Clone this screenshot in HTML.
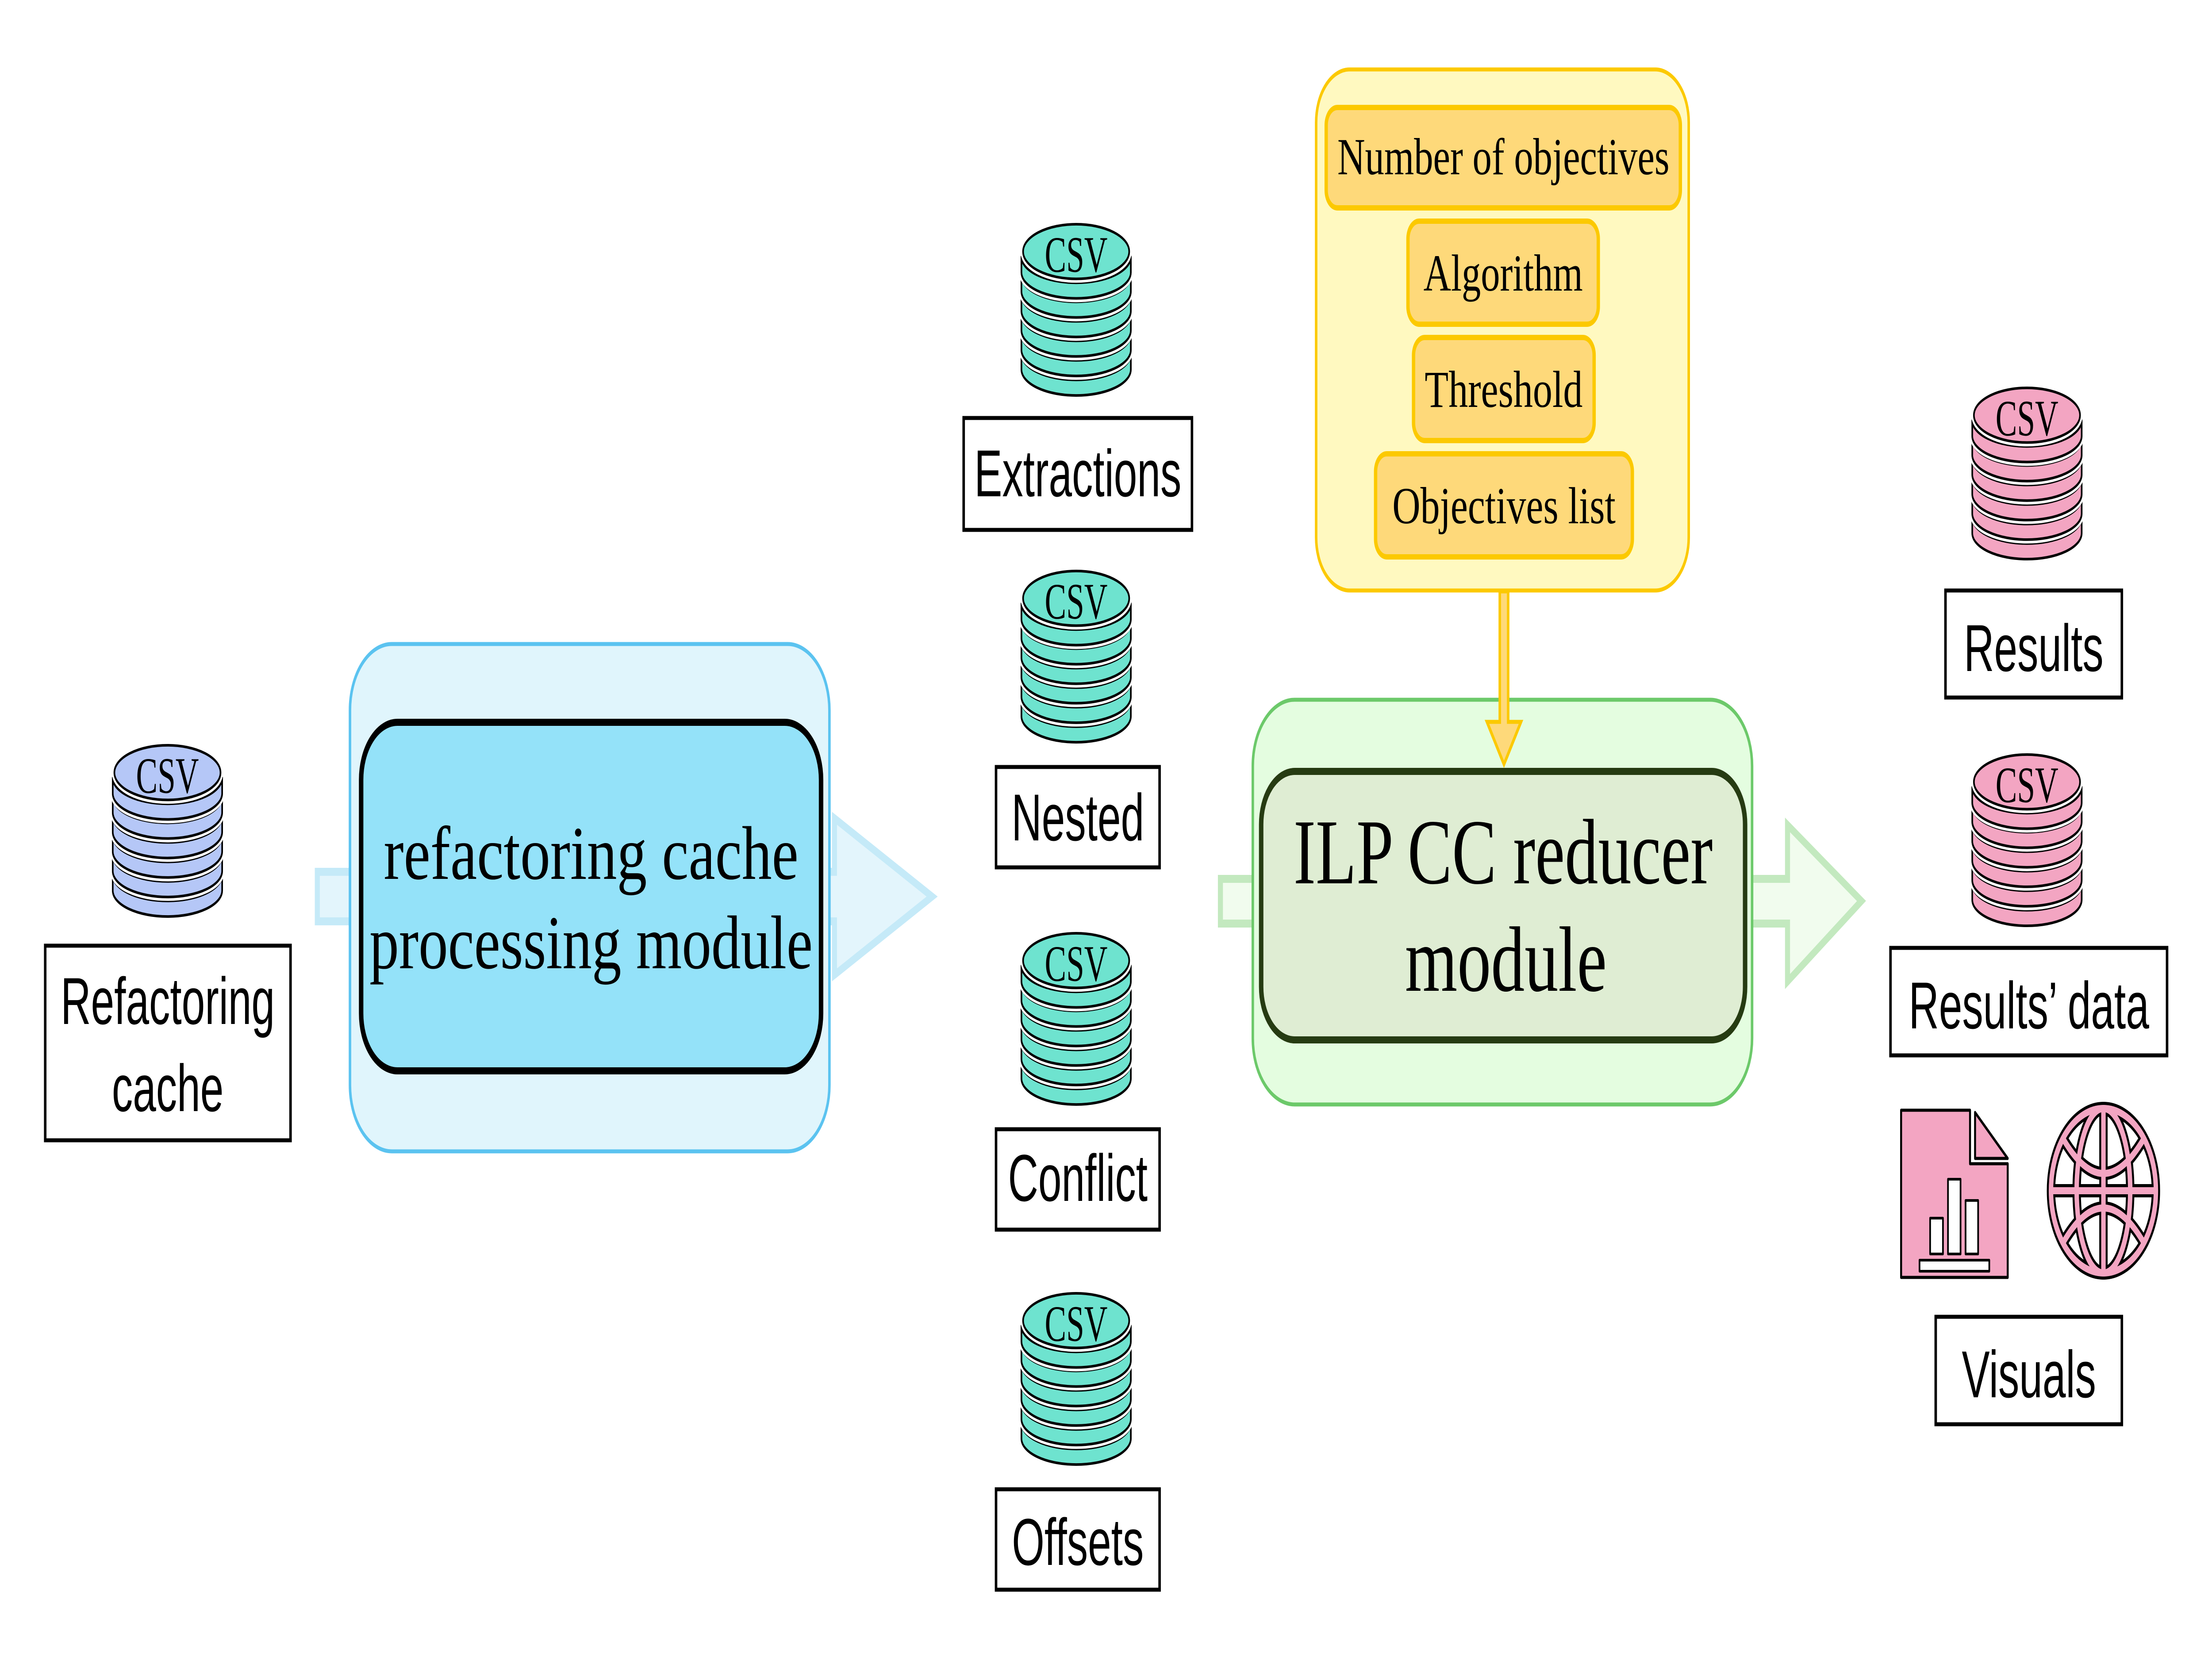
<!DOCTYPE html>
<html><head><meta charset="utf-8"><style>
html,body{margin:0;padding:0;background:#fff;width:100%;height:100%;overflow:hidden;}
svg{display:block;width:100%;height:100%;}
.lbl{font-family:"Liberation Sans",sans-serif;font-size:150px;fill:#000;text-anchor:middle;}
.tw{font-family:"Liberation Serif",serif;fill:#000;text-anchor:middle;}
</style></head><body>
<svg viewBox="0 0 7926 3762" preserveAspectRatio="none" xmlns="http://www.w3.org/2000/svg">
<defs>
<g id="stk" stroke-linejoin="round">
  <path d="M0,301 A200,60 0 0 0 400,301 L400,337 A200,60 0 0 1 0,337 Z" stroke="#fff" stroke-width="18"/>
  <path d="M0,301 A200,60 0 0 0 400,301 L400,337 A200,60 0 0 1 0,337 Z" stroke="#000" stroke-width="6"/>
  <path d="M0,256 A200,60 0 0 0 400,256 L400,292 A200,60 0 0 1 0,292 Z" stroke="#fff" stroke-width="18"/>
  <path d="M0,256 A200,60 0 0 0 400,256 L400,292 A200,60 0 0 1 0,292 Z" stroke="#000" stroke-width="6"/>
  <path d="M0,211 A200,60 0 0 0 400,211 L400,247 A200,60 0 0 1 0,247 Z" stroke="#fff" stroke-width="18"/>
  <path d="M0,211 A200,60 0 0 0 400,211 L400,247 A200,60 0 0 1 0,247 Z" stroke="#000" stroke-width="6"/>
  <path d="M0,166 A200,60 0 0 0 400,166 L400,202 A200,60 0 0 1 0,202 Z" stroke="#fff" stroke-width="18"/>
  <path d="M0,166 A200,60 0 0 0 400,166 L400,202 A200,60 0 0 1 0,202 Z" stroke="#000" stroke-width="6"/>
  <path d="M0,121 A200,60 0 0 0 400,121 L400,157 A200,60 0 0 1 0,157 Z" stroke="#fff" stroke-width="18"/>
  <path d="M0,121 A200,60 0 0 0 400,121 L400,157 A200,60 0 0 1 0,157 Z" stroke="#000" stroke-width="6"/>
  <path d="M0,77 A200,60 0 0 0 400,77 L400,113 A200,60 0 0 1 0,113 Z" stroke="#fff" stroke-width="18"/>
  <path d="M0,77 A200,60 0 0 0 400,77 L400,113 A200,60 0 0 1 0,113 Z" stroke="#000" stroke-width="6"/>
  <ellipse cx="200" cy="65" rx="194" ry="63" stroke="#fff" stroke-width="18"/>
  <ellipse cx="200" cy="65" rx="194" ry="63" stroke="#000" stroke-width="6"/>
  <text x="200" y="112" font-family="Liberation Serif,serif" font-size="118" text-anchor="middle" fill="#000">CSV</text>
</g>
</defs>

<!-- arrows (behind) -->
<path d="M1137,1971 L2990,1971 L2990,1850 L3340,2027 L2990,2204 L2990,2083 L1137,2083 Z" fill="#e3f5fc" stroke="#c5eaf8" stroke-width="18"/>
<path d="M4373,1987 L6405,1987 L6405,1865 L6670,2037 L6405,2219 L6405,2088 L4373,2088 Z" fill="#f1fcee" stroke="#c3e9bf" stroke-width="18"/>

<!-- blue module -->
<rect x="1254" y="1456" width="1718" height="1147" rx="150" fill="#e0f5fc" stroke="#5bc3f0" stroke-width="9"/>
<rect x="1294" y="1633" width="1648" height="788" rx="130" fill="#94e2f9" stroke="#000" stroke-width="16"/>
<text class="tw" x="2118" y="1987" font-size="172" textLength="1486" lengthAdjust="spacingAndGlyphs">refactoring cache</text>
<text class="tw" x="2118" y="2189" font-size="172" textLength="1588" lengthAdjust="spacingAndGlyphs">processing module</text>

<!-- green module -->
<rect x="4489" y="1582" width="1789" height="915" rx="150" fill="#e4fde0" stroke="#6cc96a" stroke-width="9"/>
<rect x="4519" y="1744" width="1734" height="607" rx="120" fill="#dfedd3" stroke="#263b12" stroke-width="16"/>
<text class="tw" x="5386" y="1997" font-size="210" textLength="1502" lengthAdjust="spacingAndGlyphs">ILP CC reducer</text>
<text class="tw" x="5396" y="2240" font-size="210" textLength="723" lengthAdjust="spacingAndGlyphs">module</text>

<!-- yellow config -->
<rect x="4716" y="157" width="1335" height="1178" rx="120" fill="#fff9c0" stroke="#fcc900" stroke-width="9"/>
<g fill="#fed97a" stroke="#fcc900" stroke-width="12">
<rect x="4752" y="243" width="1269" height="227" rx="40"/>
<rect x="5045" y="500" width="682" height="233" rx="40"/>
<rect x="5065" y="763" width="647" height="233" rx="40"/>
<rect x="4929" y="1026" width="920" height="233" rx="40"/>
</g>
<g class="tw" font-size="118">
<text x="5387" y="394" textLength="1190" lengthAdjust="spacingAndGlyphs">Number of objectives</text>
<text x="5386" y="657" textLength="571" lengthAdjust="spacingAndGlyphs">Algorithm</text>
<text x="5388" y="920" textLength="566" lengthAdjust="spacingAndGlyphs">Threshold</text>
<text x="5389" y="1183" textLength="800" lengthAdjust="spacingAndGlyphs">Objectives list</text>
</g>
<path d="M5374,1337 L5404,1337 L5404,1632 L5450,1632 L5389,1728 L5328,1632 L5374,1632 Z" fill="#fed97a" stroke="#fcc900" stroke-width="9"/>

<!-- label boxes -->
<g fill="#fff" stroke="#000" stroke-width="9">
<rect x="162" y="2138" width="879" height="440"/>
<rect x="3453" y="945" width="818" height="253"/>
<rect x="3569" y="1734" width="586" height="227"/>
<rect x="3569" y="2553" width="586" height="227"/>
<rect x="3569" y="3367" width="586" height="227"/>
<rect x="6971" y="1335" width="632" height="242"/>
<rect x="6774" y="2143" width="991" height="243"/>
<rect x="6936" y="2977" width="667" height="243"/>
</g>
<text class="lbl" x="601" y="2315">Refactoring</text>
<text class="lbl" x="601" y="2512">cache</text>
<text class="lbl" x="3862" y="1122">Extractions</text>
<text class="lbl" x="3862" y="1900">Nested</text>
<text class="lbl" x="3862" y="2715">Conflict</text>
<text class="lbl" x="3862" y="3538">Offsets</text>
<text class="lbl" x="7287" y="1517">Results</text>
<text class="lbl" x="7270" y="2325">Results’ data</text>
<text class="lbl" x="7270" y="3159">Visuals</text>

<!-- CSV stacks -->
<use href="#stk" fill="#b5c7f7" transform="translate(404,1683) scale(0.98)"/>
<use href="#stk" fill="#6ee3cf" transform="translate(3660,505) scale(0.98)"/>
<use href="#stk" fill="#6ee3cf" transform="translate(3660,1289) scale(0.98)"/>
<use href="#stk" fill="#6ee3cf" transform="translate(3660,2108) scale(0.98)"/>
<use href="#stk" fill="#6ee3cf" transform="translate(3660,2922) scale(0.98)"/>
<use href="#stk" fill="#f3a5c2" transform="translate(7067,875) scale(0.98)"/>
<use href="#stk" fill="#f3a5c2" transform="translate(7067,1704) scale(0.98)"/>

<!-- chart icon -->
<g transform="translate(6809,2507)" stroke="#000" stroke-width="7" stroke-linejoin="round">
  <path d="M3,3 L250,3 L250,124 L385,124 L385,381 L3,381 Z" fill="#f3a5c2"/>
  <path d="M268,8 L385,112 L268,112 Z" fill="#f3a5c2"/>
  <g fill="#fff" stroke-width="6">
    <rect x="107" y="247" width="46" height="81"/>
    <rect x="171" y="159" width="45" height="169"/>
    <rect x="234" y="207" width="45" height="121"/>
    <rect x="69" y="342" width="250" height="25"/>
  </g>
</g>

<!-- globe -->
<g transform="translate(7537,2692)">
  <g fill="none" stroke="#000" stroke-width="30">
    <ellipse cx="0" cy="0" rx="188" ry="186"/>
    <ellipse cx="0" cy="0" rx="96" ry="186"/>
    <line x1="0" y1="-186" x2="0" y2="186"/>
    <line x1="-188" y1="0" x2="188" y2="0"/>
    <path d="M-145,-118 Q0,40 145,-118"/>
    <path d="M-145,118 Q0,-40 145,118"/>
  </g>
  <g fill="none" stroke="#f3a5c2" stroke-width="16">
    <ellipse cx="0" cy="0" rx="188" ry="186"/>
    <ellipse cx="0" cy="0" rx="96" ry="186"/>
    <line x1="0" y1="-186" x2="0" y2="186"/>
    <line x1="-188" y1="0" x2="188" y2="0"/>
    <path d="M-145,-118 Q0,40 145,-118"/>
    <path d="M-145,118 Q0,-40 145,118"/>
  </g>
</g>
</svg>
</body></html>
